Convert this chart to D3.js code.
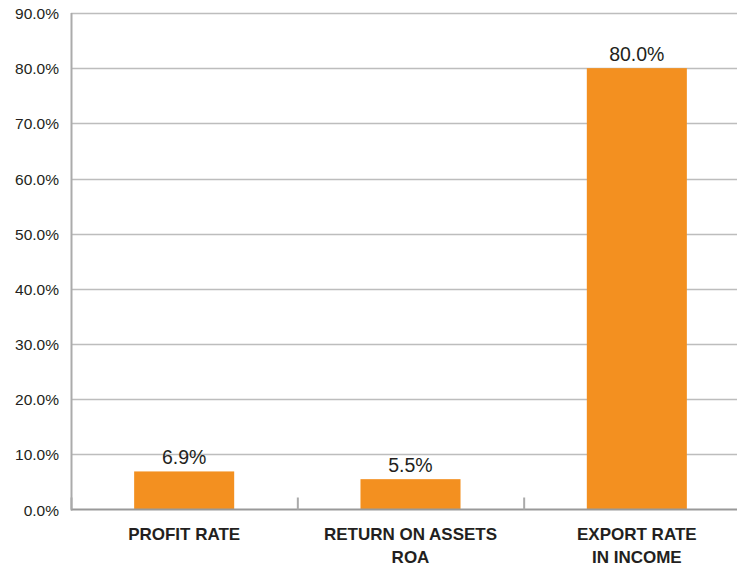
<!doctype html>
<html lang="en">
<head>
<meta charset="utf-8" />
<title>Rates</title>
<script src="https://d3js.org/d3.v7.min.js"></script>
<style>
  html, body { margin: 0; padding: 0; background: #fff; }
  svg { display: block; }
  text { font-family: "Liberation Sans", Arial, sans-serif; }
</style>
</head>
<body>
<div id="chart"></div>
<script>
// data
var categories = ["PROFIT RATE", "RETURN ON ASSETS|ROA", "EXPORT RATE|IN INCOME"];
var values = [6.9, 5.5, 80.0];
var yTicks = [0, 10, 20, 30, 40, 50, 60, 70, 80, 90];

var W = 737, H = 569;
var plotL = 71, plotR = 750, plotT = 13, plotB = 509.5;

var svg = d3.select("#chart").append("svg").attr("width", W).attr("height", H);

var x = d3.scaleBand().domain(categories).range([plotL, plotR]).padding(0);
var y = d3.scaleLinear().domain([0, 90]).range([plotB, plotT]);
var barW = x.bandwidth() * 0.442;

// gridlines
svg.append("g").selectAll("line").data(yTicks.filter(function(t){ return t > 0; }))
  .enter().append("line")
  .attr("x1", plotL).attr("x2", W)
  .attr("y1", function(d){ return Math.round(y(d)) + 0.5; })
  .attr("y2", function(d){ return Math.round(y(d)) + 0.5; })
  .attr("stroke", "#bdbdbd").attr("stroke-width", 1.5);

// y labels
svg.append("g").selectAll("text").data(yTicks).enter().append("text")
  .attr("x", 59).attr("y", function(d){ return y(d) + 6; })
  .attr("text-anchor", "end").attr("font-size", 15.5).attr("fill", "#231f20")
  .text(function(d){ return d.toFixed(1) + "%"; });

// bars
svg.append("g").selectAll("rect").data(values).enter().append("rect")
  .attr("x", function(d, i){ return x(categories[i]) + (x.bandwidth() - barW) / 2; })
  .attr("y", function(d){ return y(d); })
  .attr("width", barW)
  .attr("height", function(d){ return plotB - y(d); })
  .attr("fill", "#f39020");

// value labels
svg.append("g").selectAll("text").data(values).enter().append("text")
  .attr("x", function(d, i){ return x(categories[i]) + x.bandwidth() / 2; })
  .attr("y", function(d){ return y(d) - 7; })
  .attr("text-anchor", "middle").attr("font-size", 19.5).attr("fill", "#231f20")
  .text(function(d){ return d.toFixed(1) + "%"; });

// axes lines
svg.append("line").attr("x1", plotL + 0.5).attr("x2", plotL + 0.5)
  .attr("y1", plotT).attr("y2", plotB + 1)
  .attr("stroke", "#ababab").attr("stroke-width", 2);
svg.append("line").attr("x1", plotL).attr("x2", W)
  .attr("y1", plotB).attr("y2", plotB)
  .attr("stroke", "#999").attr("stroke-width", 2);

// category tick marks
svg.append("g").selectAll("line").data(categories).enter().append("line")
  .attr("x1", function(d){ return x(d) + 0.5; })
  .attr("x2", function(d){ return x(d) + 0.5; })
  .attr("y1", plotB - 12).attr("y2", plotB)
  .attr("stroke", "#aaa").attr("stroke-width", 2);

// category labels
var cat = svg.append("g").selectAll("text").data(categories).enter().append("text")
  .attr("x", function(d){ return x(d) + x.bandwidth() / 2; })
  .attr("y", 540)
  .attr("text-anchor", "middle").attr("font-size", 17).attr("font-weight", "bold")
  .attr("fill", "#231f20");
cat.selectAll("tspan").data(function(d){ return d.split("|"); }).enter().append("tspan")
  .attr("x", function(){ return d3.select(this.parentNode).attr("x"); })
  .attr("dy", function(d, i){ return i ? 23 : 0; })
  .text(function(d){ return d; });
</script>
</body>
</html>
